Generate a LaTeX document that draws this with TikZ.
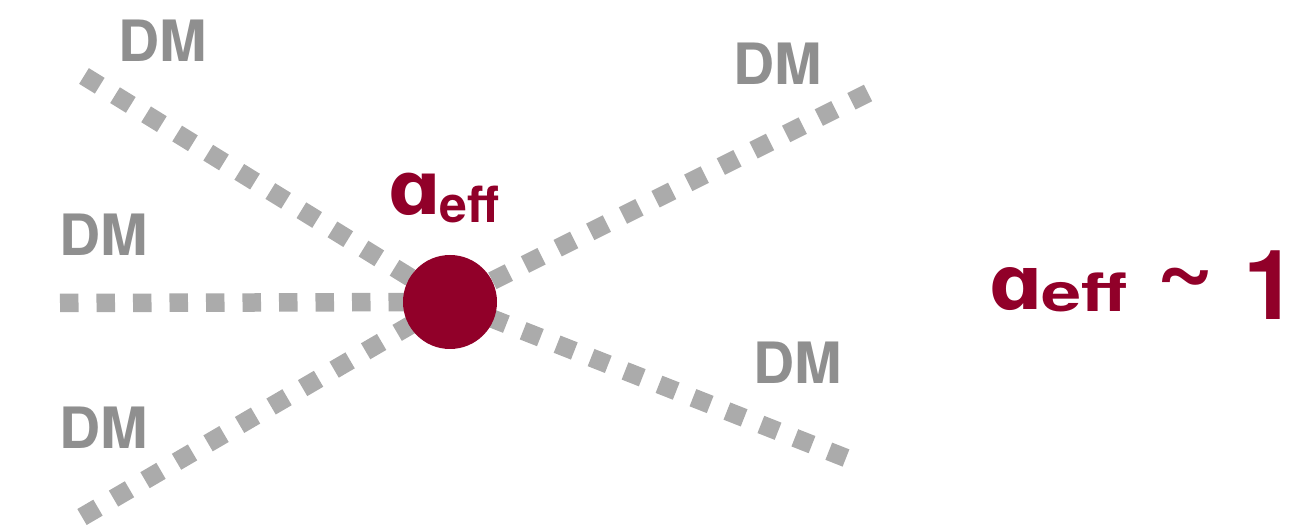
\documentclass[tikz,border=0pt]{standalone}
\usepackage{fontspec}
\setmainfont{TeX Gyre Heros}
\newfontfamily\alphafont{DejaVu Sans}
\definecolor{dmred}{RGB}{145,0,41}
\definecolor{dmgray}{RGB}{143,143,143}
\definecolor{lngray}{RGB}{171,171,171}
\tikzset{
  leg/.style={draw=lngray, line width=18.5pt, dash pattern=on 18.5pt off 18pt},
  dmlabel/.style={text=dmgray, font=\fontsize{57}{62}\selectfont\bfseries, inner sep=0pt, anchor=base west},
  redtxt/.style={text=dmred, inner sep=0pt, anchor=base west},
}
\begin{document}
\begin{tikzpicture}[x=1pt,y=-1pt]
\useasboundingbox (0,0) rectangle (1307,529);
\coordinate (c) at (450,302);
\coordinate (ul) at (84,76);
\coordinate (l) at (60,303);
\coordinate (ll) at (82,517);
\coordinate (ur) at (868,93);
\coordinate (lr) at (846,458);
\draw[leg] (ul) -- (c);
\draw[leg] (l) -- (c);
\draw[leg] (ll) -- (c);
\draw[leg] (ur) -- (c);
\draw[leg] (lr) -- (c);
\node[circle, fill=dmred, minimum size=94pt, inner sep=0pt] (v) at (c) {};
\node[dmlabel] (dm1) at (118,62) {DM};
\node[dmlabel] (dm2) at (733,85) {DM};
\node[dmlabel] (dm3) at (59,256) {DM};
\node[dmlabel] (dm4) at (753,384) {DM};
\node[dmlabel] (dm5) at (59,448) {DM};
\node[redtxt, font=\fontsize{74}{80}\alphafont\bfseries] (a1) at (388,215) {ɑ};
\node[redtxt, font=\fontsize{50}{54}\selectfont\bfseries] (e1) at (439,223) {eff};
\node[redtxt, font=\fontsize{75}{80}\alphafont\bfseries] (a2) at (989,310) {ɑ};
\node[redtxt, font=\fontsize{53}{56}\selectfont\bfseries] (e2) at (1041,312) {\scalebox{1.36}[1]{eff}};
\node[redtxt, font=\fontsize{100}{104}\selectfont\bfseries] (t2) at (1156,300) {\textasciitilde};
\node[redtxt, font=\fontsize{97}{100}\selectfont\bfseries] (o2) at (1243,320) {1};
\end{tikzpicture}
\end{document}
